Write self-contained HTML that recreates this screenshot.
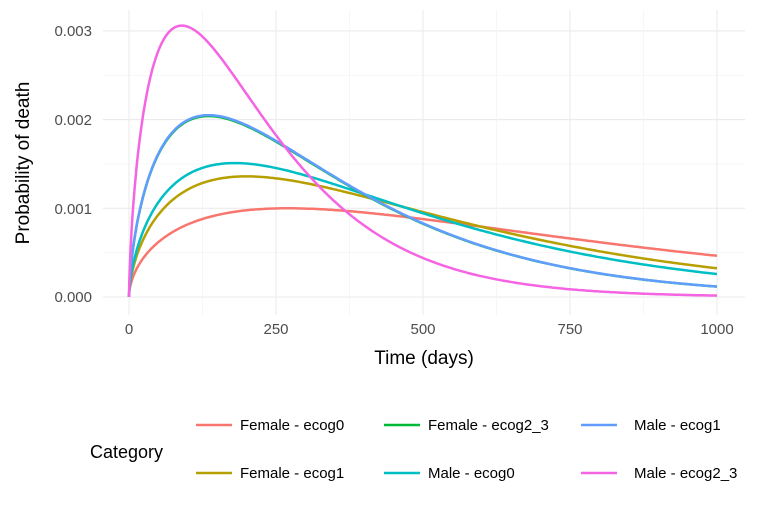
<!DOCTYPE html>
<html><head><meta charset="utf-8"><style>body{margin:0;background:#fff}</style></head>
<body>
<svg id="s" width="760" height="518" xmlns="http://www.w3.org/2000/svg" font-family="Liberation Sans, sans-serif">
<rect width="760" height="518" fill="#fff"/>
<g id="grid"></g>
<g id="curves" fill="none" stroke-width="2.5"></g>
<g font-size="15" fill="#4d4d4d" text-anchor="end">
<text x="92" y="302">0.000</text><text x="92" y="214">0.001</text><text x="92" y="125">0.002</text><text x="92" y="36">0.003</text>
</g>
<g font-size="15" fill="#4d4d4d" text-anchor="middle">
<text x="129" y="334">0</text><text x="276" y="334">250</text><text x="423" y="334">500</text><text x="570" y="334">750</text><text x="717" y="334">1000</text>
</g>
<text x="424" y="364" font-size="19" text-anchor="middle">Time (days)</text>
<text transform="translate(29,163) rotate(-90)" font-size="19" text-anchor="middle">Probability of death</text>
<text x="90" y="458" font-size="18">Category</text>
<g stroke-width="2.5">
<line x1="196" x2="232" y1="425" y2="425" stroke="#F8766D"/>
<line x1="196" x2="232" y1="473" y2="473" stroke="#B79F00"/>
<line x1="384" x2="420" y1="425" y2="425" stroke="#00BA38"/>
<line x1="384" x2="420" y1="473" y2="473" stroke="#00BFC4"/>
<line x1="581" x2="617" y1="425" y2="425" stroke="#619CFF"/>
<line x1="581" x2="617" y1="473" y2="473" stroke="#F564E3"/>
</g>
<g font-size="15">
<text x="240" y="430">Female - ecog0</text><text x="240" y="478">Female - ecog1</text>
<text x="428" y="430">Female - ecog2_3</text><text x="428" y="478">Male - ecog0</text>
<text x="634" y="430">Male - ecog1</text><text x="634" y="478">Male - ecog2_3</text>
</g>
</svg>
<script>
var X=function(t){return 129+t*0.588},Y=function(v){return 297-v*88700};
var g='';
[0,0.0005,0.001,0.0015,0.002,0.0025,0.003].forEach(function(v,i){g+='<line x1="103" x2="745" y1="'+Y(v)+'" y2="'+Y(v)+'" stroke="'+(i%2?'#f3f3f3':'#ebebeb')+'" stroke-width="'+(i%2?0.7:1.1)+'"/>'});
[0,125,250,375,500,625,750,875,1000].forEach(function(t,i){g+='<line y1="10" y2="315" x1="'+X(t)+'" x2="'+X(t)+'" stroke="'+(i%2?'#f3f3f3':'#ebebeb')+'" stroke-width="'+(i%2?0.7:1.1)+'"/>'});
document.getElementById('grid').innerHTML=g;
var C=[["#F8766D",0.55,491,0.00100],["#B79F00",0.6,333,0.00136],["#00BFC4",0.62,290,0.00151],["#00BA38",0.65,208,0.00204],["#619CFF",0.65,208,0.00205],["#F564E3",0.68,132,0.00306]];
var h='';
C.forEach(function(c){var k=c[1],s=c[2],pk=k*s,d='M'+X(0)+','+Y(0);
for(var t=0.5;t<=1000;t+=(t<20?0.5:4)){var f=c[3]*Math.pow(t/pk,k)*Math.exp(-(t-pk)/s);d+=' L'+X(t).toFixed(1)+','+Y(f).toFixed(1);}
h+='<path d="'+d+'" stroke="'+c[0]+'"/>';});
document.getElementById('curves').innerHTML=h;
</script>
</body></html>
